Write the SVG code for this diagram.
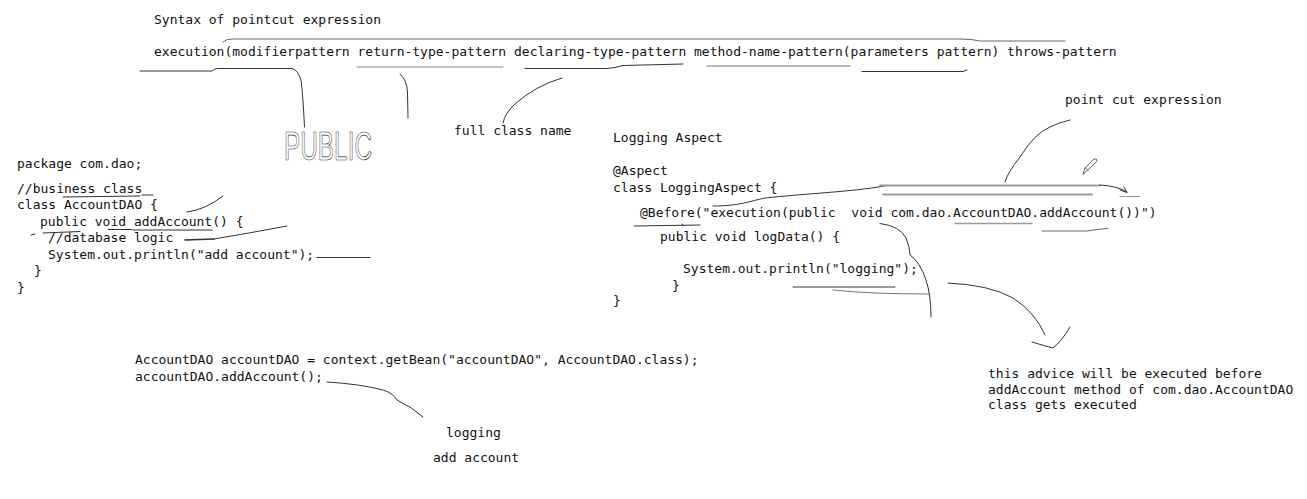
<svg xmlns="http://www.w3.org/2000/svg" width="1307" height="499" viewBox="0 0 1307 499">
<style>
text{font-family:"DejaVu Sans Mono","Liberation Mono",monospace;font-size:13px;fill:#111;white-space:pre}
.k{fill:none;stroke:#333;stroke-width:1;stroke-linecap:round;stroke-linejoin:round}
.g{fill:none;stroke:#9a9a9a;stroke-width:2;stroke-linecap:round}
.hw{font-family:"Liberation Sans",sans-serif;font-size:40px;fill:none;stroke:#333;stroke-width:0.7}
</style>
<rect width="1307" height="499" fill="#fff"/>
<g id="syntax">
<text x="154" y="24">Syntax of pointcut expression</text>
<text x="154" y="56">execution(modifierpattern return-type-pattern declaring-type-pattern method-name-pattern(parameters pattern) throws-pattern</text>
</g>
<g id="public-note"><text class="hw" x="284" y="160" textLength="88" lengthAdjust="spacingAndGlyphs">PUBLIC</text></g>
<g id="full-class-name"><text x="454" y="134.5">full class name</text></g>
<g id="point-cut-label"><text x="1065" y="103.5">point cut expression</text></g>
<g id="account-dao">
<text x="17" y="167.5">package com.dao;</text>
<text x="17" y="192.5">//business class</text>
<text x="17" y="208.5">class AccountDAO {</text>
<text x="40" y="225.5">public void addAccount() {</text>
<text x="48" y="241.5">//database logic</text>
<text x="48" y="258.5">System.out.println("add account");</text>
<text x="34" y="274.5">}</text>
<text x="17" y="291.5">}</text>
</g>
<g id="logging-aspect">
<text x="613" y="141.5">Logging Aspect</text>
<text x="613" y="174.5">@Aspect</text>
<text x="613" y="191.5">class LoggingAspect {</text>
<text x="640" y="216.5">@Before("execution(public  void com.dao.AccountDAO.addAccount())")</text>
<text x="660" y="240.5">public void logData() {</text>
<text x="683" y="272.5">System.out.println("logging");</text>
<text x="672" y="289.5">}</text>
<text x="613" y="304.5">}</text>
</g>
<g id="client-code">
<text x="135" y="363.5">AccountDAO accountDAO = context.getBean("accountDAO", AccountDAO.class);</text>
<text x="135" y="380.5">accountDAO.addAccount();</text>
</g>
<g id="output">
<text x="446" y="436.5">logging</text>
<text x="433" y="461.5">add account</text>
</g>
<g id="advice-note">
<text x="988" y="377.5">this advice will be executed before</text>
<text x="988" y="393.5">addAccount method of com.dao.AccountDAO</text>
<text x="988" y="409">class gets executed</text>
</g>
<g id="connectors">
<path class="k" d="M223 42 Q226 39 232 39 L960 39 Q972 39 980 41 L1065 41" style="stroke:#666"/>
<path class="k" d="M140 71 L212 71 Q214 68.5 218 68.5 L292 68.5 Q298 70 301 80 Q303 95 304.5 127"/>
<path class="k" d="M357 67 L503 67" style="stroke:#888"/>
<path class="k" d="M400 74 Q407 80 407.5 92 L408 118"/>
<path class="k" d="M525 68.5 L607 68.5 Q615 68 623 65.5 L683 64"/>
<path class="k" d="M707 66 L850 66" style="stroke:#777"/>
<path class="k" d="M862 71.5 L963 71.5 L967 70"/>
<path class="k" d="M503 123 Q505 113 515 104 Q535 86 562 78"/>
<path class="k" d="M63 197 L140 196 M142 195 L153 195"/>
<path class="k" d="M187 212 Q205 210 223 196"/>
<path class="k" d="M108 229.5 L132 229.5 M133 230 L212 230"/>
<path class="k" d="M31 235 L35 234 M43 233 L80 231.5"/>
<path class="k" d="M185 240 L214 239" style="stroke-width:1.6"/>
<path class="k" d="M214 239 Q250 233 287 226"/>
<path class="k" d="M317 257.5 L370 257.5"/>
<path class="k" d="M713 206 C740 206 750 201 765 198 C800 194 850 192 885 186"/>
<path class="g" d="M880 185.5 L1100 185.5"/>
<path class="k" d="M1100 185 Q1118 186 1127 192 M1120 190 L1127 192.5 L1124 187"/>
<path class="g" d="M883 194.5 L1092 194.5"/>
<path class="g" d="M1120 196.5 L1140 196.5" style="stroke-width:1.2"/>
<path class="k" d="M634 226 L700 225 M682 224 L683 226"/>
<path class="g" d="M955 223.5 L1032 223.5" style="stroke-width:1.3"/>
<path class="k" d="M1042 231 L1087 231 Q1098 229 1108 228.5" style="stroke:#666"/>
<path class="k" d="M880 223.5 Q900 226 906 238 Q910 248 910 255 Q920 262 926 280 Q931 295 931 317"/>
<path class="k" d="M793 287 L895 287"/>
<path class="k" d="M833 290 Q870 294 930 294" style="stroke:#777"/>
<path class="k" d="M948 283 Q990 285 1013 298 Q1035 312 1045 335 M1032 342 Q1045 346 1053 348 Q1062 341 1070 327"/>
<path class="k" d="M1005 182 Q1008 172 1020 157 Q1035 133 1050 127 Q1060 122 1070 120"/>
<path class="k" d="M1083 174 L1085 168 L1094 159 Q1097 158 1097 161 L1088 170 Z M1085 168 L1088 170" style="stroke:#666"/>
<path class="k" d="M327 382 Q360 384 383 390 Q393 393 397 400 Q412 407 423 417"/>
</g>
</svg>
